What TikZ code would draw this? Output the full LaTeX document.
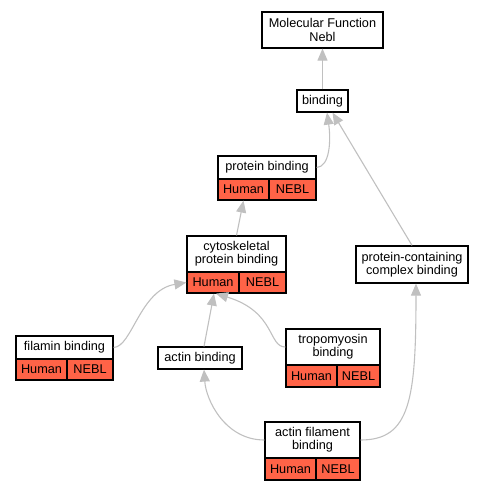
\documentclass[tikz,border=0pt]{standalone}
\usepackage{fontspec}
\setmainfont{Liberation Sans}
\usetikzlibrary{arrows.meta}
\definecolor{edgegray}{RGB}{192,192,192}
\definecolor{genered}{RGB}{255,99,71}
\begin{document}
\begin{tikzpicture}[x=1pt,y=-1pt,
  box/.style={draw=black, line width=1.2pt, fill=white, inner sep=0pt, align=center,
    font=\fontsize{12.7}{13.2}\selectfont},
  cell/.style={box, fill=genered},
  conn/.style={draw=edgegray, line width=1.1pt, -{Triangle[length=12pt,width=10pt]}}]
\useasboundingbox (0,0) rectangle (485,491);
% nodes
\node[box, minimum width=121pt, minimum height=36pt] (mf) at (322.5,30) {Molecular Function\\Nebl};
\node[box, minimum width=51pt, minimum height=22pt] (bind) at (322.5,101) {binding};
\node[box, minimum width=98pt, minimum height=23pt] (pb) at (267,167.5) {protein binding};
\node[cell, minimum width=51pt, minimum height=21pt] (pbH) at (243.5,189.5) {Human};
\node[cell, minimum width=47pt, minimum height=21pt] (pbN) at (292.5,189.5) {NEBL};
\node[box, minimum width=99pt, minimum height=36pt] (cyto) at (236.5,254) {cytoskeletal\\protein binding};
\node[cell, minimum width=52pt, minimum height=21pt] (cytoH) at (213,282.5) {Human};
\node[cell, minimum width=47pt, minimum height=21pt] (cytoN) at (262.5,282.5) {NEBL};
\node[box, minimum width=112pt, minimum height=37pt] (pcb) at (412,264.5) {protein-containing\\complex binding};
\node[box, minimum width=97pt, minimum height=23pt] (fil) at (64.5,347.5) {filamin binding};
\node[cell, minimum width=51pt, minimum height=21pt] (filH) at (41.5,369.5) {Human};
\node[cell, minimum width=46pt, minimum height=21pt] (filN) at (90,369.5) {NEBL};
\node[box, minimum width=84pt, minimum height=22pt] (actin) at (200,358) {actin binding};
\node[box, minimum width=94pt, minimum height=36pt] (tropo) at (333,347) {tropomyosin\\binding};
\node[cell, minimum width=51pt, minimum height=22pt] (tropoH) at (311.5,376) {Human};
\node[cell, minimum width=43pt, minimum height=22pt] (tropoN) at (358.5,376) {NEBL};
\node[box, minimum width=95pt, minimum height=36pt] (afb) at (312.5,440) {actin filament\\binding};
\node[cell, minimum width=51pt, minimum height=22pt] (afbH) at (290.5,469) {Human};
\node[cell, minimum width=44pt, minimum height=22pt] (afbN) at (338,469) {NEBL};
% connectors
\path[conn] (bind.north) -- (mf.south);
\path[conn] (pb.east) .. controls (330,167) and (331,140) .. ([xshift=4.5pt]bind.south);
\path[conn] (pcb.north) -- ([xshift=10pt]bind.south);
\path[conn] (cyto.north) -- (pbH.south);
\path[conn] (fil.east) .. controls (132,347) and (140,290) .. (cytoH.west);
\path[conn] ([xshift=4pt]actin.north) -- ([xshift=1pt]cytoH.south);
\path[conn] (tropo.west) .. controls (268,347) and (276,312) .. ([xshift=3pt]cytoH.south);
\path[conn] (afb.west) .. controls (225,440) and (206,400) .. ([xshift=4pt]actin.south);
\path[conn] (afb.east) .. controls (410,440) and (416,400) .. ([xshift=4pt]pcb.south);
\end{tikzpicture}
\end{document}
